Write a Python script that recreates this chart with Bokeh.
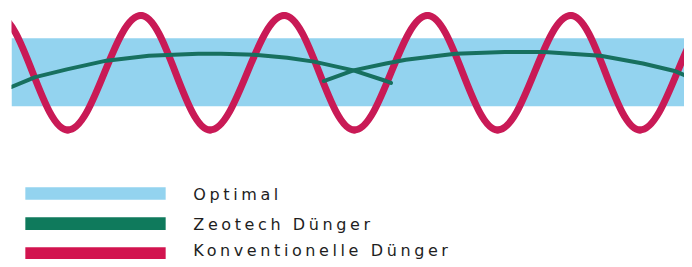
from bokeh.plotting import figure
from bokeh.models import Range1d, InlineStyleSheet
from bokeh.core.properties import value
from bokeh.embed import file_html
from bokeh.resources import INLINE

# ---- data (x = time, y = level, drawn downward) ----
optimal_band = (39, 109)          # upper / lower edge of the optimal range
time_span = (11, 692)

# Konventionelle Dünger: turning points of the oscillation
konv_x = [-3, 68, 142, 212, 287, 358, 432, 503, 577, 647, 722]
konv_y = [15.5, 133.5, 15.5, 133.5, 15.5, 133.5, 15.5, 133.5, 15.5, 133.5, 15.5]

# Zeotech Dünger: two overlapping arcs
zeo1_x = [11, 35, 67, 107, 150, 175, 200, 223, 257, 290, 317, 357, 390, 395]
zeo1_y = [89, 79, 71, 62, 57, 56, 55, 55, 56, 59, 63, 72, 83, 85]
zeo2_x = [327, 357, 390, 410, 460, 510, 550, 607, 650, 683, 692]
zeo2_y = [83, 72, 65, 61, 55, 53, 53, 57, 65, 73, 77]

legend_labels = ["Optimal", "Zeotech Dünger", "Konventionelle Dünger"]
legend_colors = ["#93d3ef", "#0f7a5c", "#d2144f"]

BAND = "#93d3ef"
CRIMSON = "#c91a56"
GREEN = "#17705f"

W, H = 684, 259
p = figure(width=W, height=H, output_backend="svg", toolbar_location=None,
           x_range=Range1d(time_span[0], time_span[1]), y_range=Range1d(267, 0),
           min_border_left=11, min_border_right=0, min_border_top=0, min_border_bottom=0)
p.axis.visible = False
p.grid.visible = False
p.outline_line_color = None
p.background_fill_color = "white"
p.border_fill_color = "white"
p.stylesheets = [InlineStyleSheet(css=":host { letter-spacing: 3.6px; }")]

# optimal band
p.quad(left=time_span[0], right=time_span[1], top=optimal_band[0], bottom=optimal_band[1],
       fill_color=BAND, line_color=None)

# conventional fertilizer: smooth half-waves between turning points (cubic Bezier)
k = 0.3642
x0 = konv_x[:-1]; x1 = konv_x[1:]
y0 = konv_y[:-1]; y1 = konv_y[1:]
cx0 = [a + k * (b - a) for a, b in zip(x0, x1)]
cx1 = [b - k * (b - a) for a, b in zip(x0, x1)]
p.bezier(x0=x0, y0=y0, x1=x1, y1=y1, cx0=cx0, cy0=y0, cx1=cx1, cy1=y1,
         line_color=CRIMSON, line_width=7, line_cap="round")

# Zeotech fertilizer arcs
p.line(zeo1_x, zeo1_y, line_color=GREEN, line_width=4, line_join="round", line_cap="round")
p.line(zeo2_x, zeo2_y, line_color=GREEN, line_width=4, line_join="round", line_cap="round")

# legend
row_top = [192.5, 223.5, 254.5]
row_h = 13
p.quad(left=25, right=167, top=row_top, bottom=[t + row_h for t in row_top],
       fill_color=legend_colors, line_color=None)
p.text(x=[195] * 3, y=[199.5, 230.5, 258], text=legend_labels,
       text_font=value("DejaVu Sans"), text_font_size="16px",
       text_color="#1e1e1e", text_align="left", text_baseline="middle")

open("out.html", "w").write(file_html(p, INLINE))
